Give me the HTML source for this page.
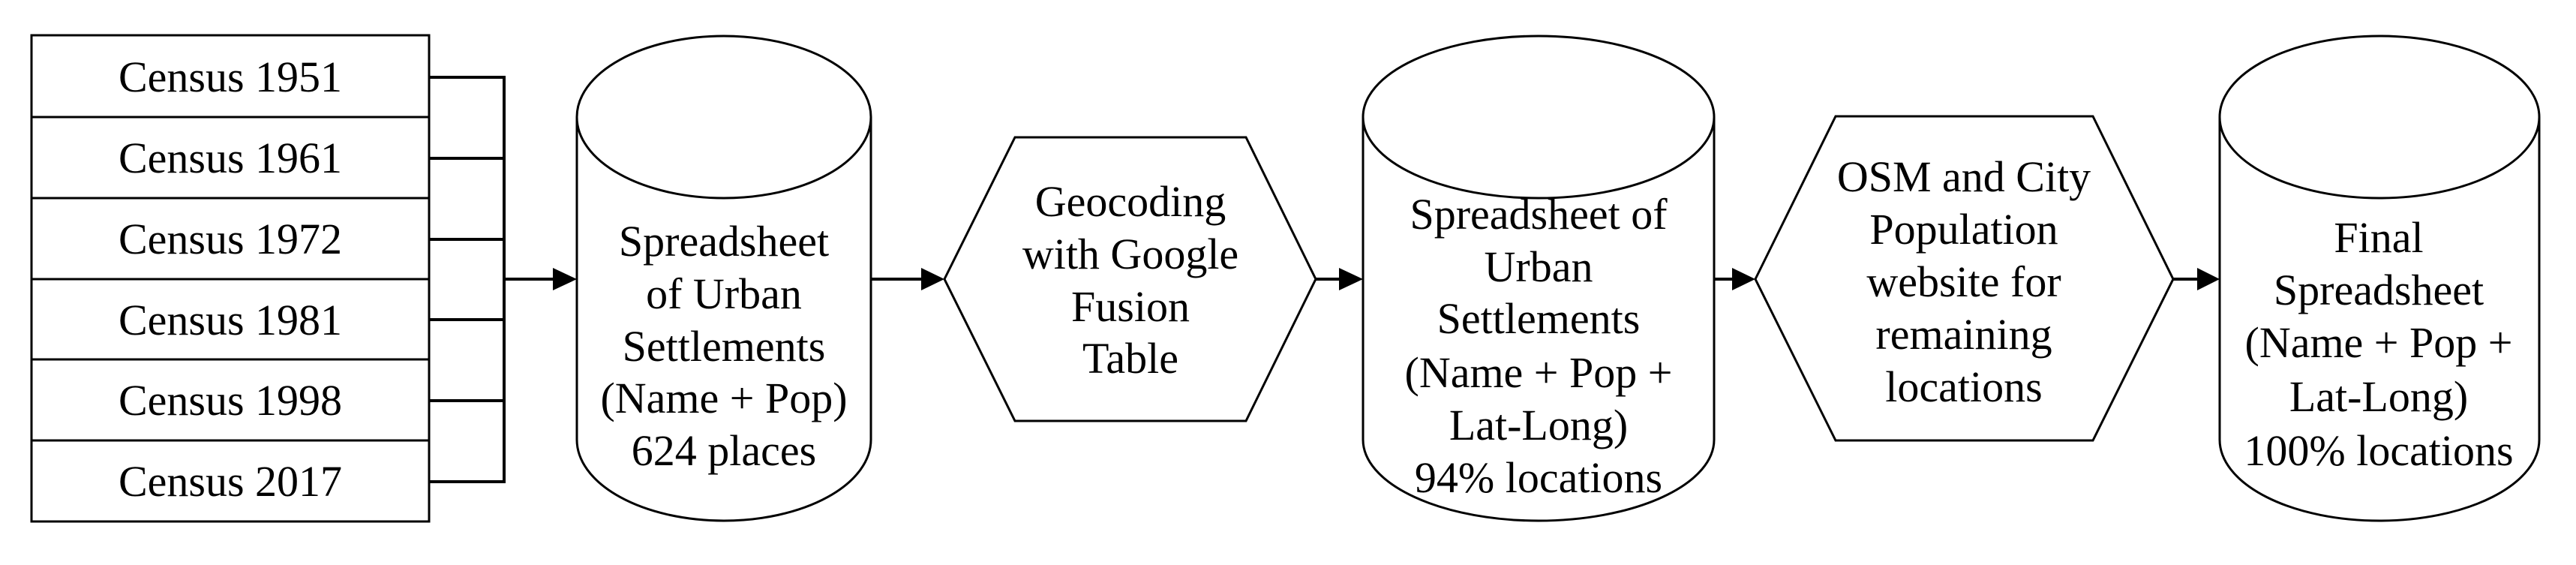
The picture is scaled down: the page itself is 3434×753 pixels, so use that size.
<!DOCTYPE html>
<html><head><meta charset="utf-8"><style>
html,body{margin:0;padding:0;background:#fff;width:3434px;height:753px;overflow:hidden}
svg text{font-family:"Liberation Serif",serif;font-size:58px;fill:#000;text-anchor:middle}
</style></head><body>
<svg width="3434" height="753" viewBox="0 0 3434 753" xmlns="http://www.w3.org/2000/svg">
<g fill="#fff" stroke="#000" stroke-width="3">
<rect x="42" y="47" width="530" height="648"/>
<line x1="42" y1="156" x2="572" y2="156"/>
<line x1="42" y1="264" x2="572" y2="264"/>
<line x1="42" y1="372" x2="572" y2="372"/>
<line x1="42" y1="479" x2="572" y2="479"/>
<line x1="42" y1="587" x2="572" y2="587"/>
</g>
<g font-size="58">
<text x="307" y="122">Census 1951</text>
<text x="307" y="230">Census 1961</text>
<text x="307" y="338">Census 1972</text>
<text x="307" y="446">Census 1981</text>
<text x="307" y="553">Census 1998</text>
<text x="307" y="661">Census 2017</text>
</g>
<g stroke="#000" stroke-width="4" fill="none">
<path d="M572 103H672M572 211H672M572 319H672M572 426H672M572 534H672M572 642H672M672 101V644"/>
<line x1="672" y1="372" x2="740" y2="372"/>
<line x1="1161" y1="372" x2="1232" y2="372"/>
<line x1="1754" y1="372" x2="1790" y2="372"/>
<line x1="2285" y1="372" x2="2313" y2="372"/>
<line x1="2897" y1="372" x2="2932" y2="372"/>
</g>
<g fill="#000">
<polygon points="737,357 769,372 737,387"/>
<polygon points="1228,357 1259,372 1228,387"/>
<polygon points="1785,357 1817,372 1785,387"/>
<polygon points="2309,357 2340,372 2309,387"/>
<polygon points="2929,357 2959,372 2929,387"/>
</g>
<g fill="#fff" stroke="#000" stroke-width="3">
<path d="M769 156V586A196 108 0 0 0 1161 586V156"/>
<ellipse cx="965" cy="156" rx="196" ry="108"/>
<path d="M1817 156V586A234 108 0 0 0 2285 586V156"/>
<ellipse cx="2051" cy="156" rx="234" ry="108"/>
<path d="M2959 156V586A213 108 0 0 0 3385 586V156"/>
<ellipse cx="3172" cy="156" rx="213" ry="108"/>
<polygon points="1259,372 1353,183 1661,183 1754,372 1661,561 1353,561"/>
<polygon points="2340,372 2447,155 2790,155 2897,372 2790,587 2447,587"/>
</g>
<text x="965" y="341">Spreadsheet</text>
<text x="965" y="411">of Urban</text>
<text x="965" y="481">Settlements</text>
<text x="965" y="550">(Name + Pop)</text>
<text x="965" y="620">624 places</text>
<text x="1507" y="288">Geocoding</text>
<text x="1507" y="358">with Google</text>
<text x="1507" y="428">Fusion</text>
<text x="1507" y="497">Table</text>
<text x="2051" y="305">Spreadsheet of</text>
<text x="2051" y="375">Urban</text>
<text x="2051" y="444">Settlements</text>
<text x="2051" y="516">(Name + Pop +</text>
<text x="2051" y="586">Lat-Long)</text>
<text x="2051" y="656">94% locations</text>
<text x="2618" y="255">OSM and City</text>
<text x="2618" y="325">Population</text>
<text x="2618" y="395">website for</text>
<text x="2618" y="465">remaining</text>
<text x="2618" y="535">locations</text>
<text x="3171" y="336">Final</text>
<text x="3171" y="406">Spreadsheet</text>
<text x="3171" y="476">(Name + Pop +</text>
<text x="3171" y="548">Lat-Long)</text>
<text x="3171" y="620">100% locations</text>
</svg>
</body></html>
